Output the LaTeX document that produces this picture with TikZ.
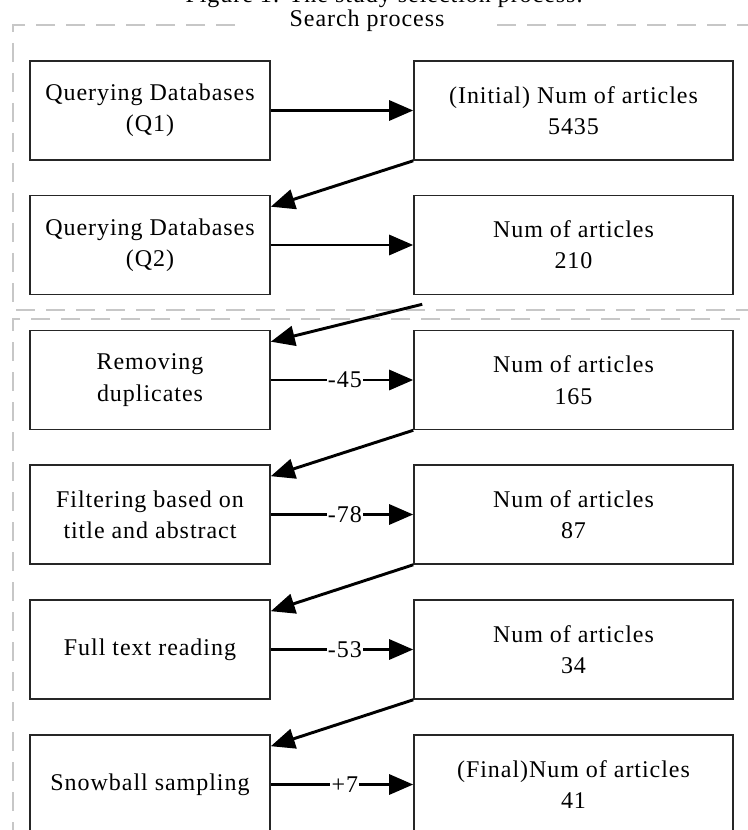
\documentclass[tikz,border=0pt]{standalone}
\usepackage{fontspec}
\setmainfont{Liberation Serif}[LetterSpace=4.0]
\usetikzlibrary{arrows.meta,calc}
\begin{document}
\begin{tikzpicture}[x=0.75pt,y=-0.75pt,
  txt/.style={font=\fontsize{18}{23.5}\selectfont},
  leftbox/.style={txt, draw=black!85, line width=1.2pt, minimum width=180pt, minimum height=74.25pt, align=center, inner sep=0pt},
  rightbox/.style={leftbox, minimum width=239.25pt},
  arr/.style={line width=2.2pt, -{Triangle[length=18pt,width=15pt]}},
  lbl/.style={txt, fill=white, inner sep=1pt, pos=0.52},
  dashbox/.style={draw=black!22, line width=2pt, dash pattern=on 14pt off 8.5pt}]
\useasboundingbox (0,0) rectangle (747,830);
% group frames
\draw[dashbox] (235,25) -- (13,25) -- (13,310) -- (770,310);
\draw[dashbox] (497,25) -- (770,25);
\draw[dashbox] (770,319) -- (13,319) -- (13,850);
% titles
\node[txt, anchor=base] (cap) at (384,3) {Figure 1: The study selection process.};
\node[txt, anchor=base] (grp) at (367,27) {Search process};
% boxes
\node[leftbox]  (L1) at (150,110.5) {Querying Databases\\(Q1)};
\node[rightbox] (R1) at (573.5,110.5) {(Initial) Num of articles\\5435};
\node[leftbox]  (L2) at (150,245) {Querying Databases\\(Q2)};
\node[rightbox] (R2) at (573.5,245) {Num of articles\\210};
\node[leftbox]  (L3) at (150,380) {Removing\\duplicates};
\node[rightbox] (R3) at (573.5,380) {Num of articles\\165};
\node[leftbox]  (L4) at (150,514.5) {Filtering based on\\title and abstract};
\node[rightbox] (R4) at (573.5,514.5) {Num of articles\\87};
\node[leftbox]  (L5) at (150,649.5) {Full text reading};
\node[rightbox] (R5) at (573.5,649.5) {Num of articles\\34};
\node[leftbox]  (L6) at (150,784.5) {Snowball sampling};
\node[rightbox] (R6) at (573.5,784.5) {(Final)Num of articles\\41};
% horizontal connectors
\draw[arr] (L1.east) -- (R1.west);
\draw[arr] (L2.east) -- (R2.west);
\draw[arr] (L3.east) -- node[lbl] {-45} (R3.west);
\draw[arr] (L4.east) -- node[lbl] {-78} (R4.west);
\draw[arr] (L5.east) -- node[lbl] {-53} (R5.west);
\draw[arr] (L6.east) -- node[lbl] {+7} (R6.west);
% diagonal connectors
\coordinate (s2) at ($(R2.south west)+(9,9)$);
\draw[arr] (R1.south west) -- ($(L2.north east)+(0,12)$);
\draw[arr] (s2) -- ($(L3.north east)+(0,12)$);
\draw[arr] (R3.south west) -- ($(L4.north east)+(0,12)$);
\draw[arr] (R4.south west) -- ($(L5.north east)+(0,12)$);
\draw[arr] (R5.south west) -- ($(L6.north east)+(0,12)$);
\end{tikzpicture}
\end{document}
